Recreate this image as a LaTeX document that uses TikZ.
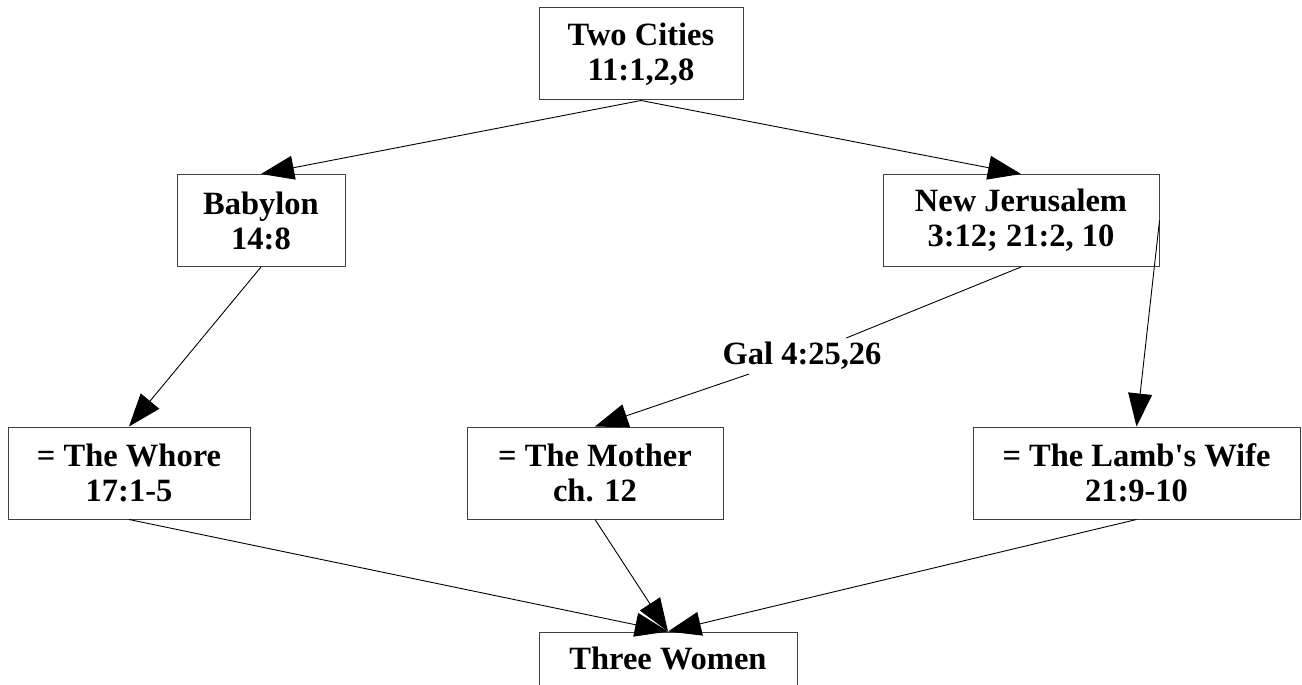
\documentclass[tikz,border=0pt]{standalone}
\usepackage{fontspec}
\setmainfont{Liberation Serif}
\usetikzlibrary{arrows.meta}
\tikzset{
	box/.style={draw=black!75, line width=1pt, fill=white, align=center, inner sep=0pt, minimum height=92pt, font=\bfseries\fontsize{32.5}{35}\selectfont},
	tag/.style={inner sep=4pt, font=\bfseries\fontsize{32.5}{35}\selectfont},
	link/.style={line width=0.9pt, -{Triangle[length=33pt,width=24pt]}},
	plain/.style={line width=0.9pt}
}

\begin{document}
\begin{tikzpicture}[x=1pt, y=-1pt]
		%%%%% START %%%%%
		
		\useasboundingbox (0, 0) rectangle (1302, 685);
		
		\node[box, minimum width=204pt] (cities) at (641, 54) {Two Cities\\11:1,2,8};
		
		\node[box, minimum width=168pt] (babylon) at (261, 220.5) {Babylon\\14:8};
		\node[box, minimum width=276pt] (jerusalem) at (1021, 220.5) {New Jerusalem\\3:12; 21:2, 10};
		
		\node[tag] (gal) at (802, 356) {Gal 4:25,26};
		
		\node[box, minimum width=242pt] (whore) at (129, 473) {= The Whore\\17:1-5};
		\node[box, minimum width=256pt] (mother) at (595, 473) {= The Mother\\ch. 12};
		\node[box, minimum width=327pt] (wife) at (1136.5, 473) {= The Lamb\textquotesingle s Wife\\21:9-10};
		
		\node[box, minimum width=258pt] (women) at (668, 678) {Three Women\\[-6pt]\strut};
		
		\draw[link] (cities.south) -- (babylon.north);
		\draw[link] (cities.south) -- (jerusalem.north);
		
		\draw[link] (babylon.south) -- (whore.north);
		\draw[plain] (jerusalem.south) -- (gal);
		\draw[link] (gal) -- (mother.north);
		\draw[link] (jerusalem.east) -- (wife.north);
		
		\draw[link] (whore.south) -- (women.north);
		\draw[link] (mother.south) -- (women.north);
		\draw[link] (wife.south) -- (women.north);
		
		%%%%% END %%%%%
	\end{tikzpicture}
\end{document}
